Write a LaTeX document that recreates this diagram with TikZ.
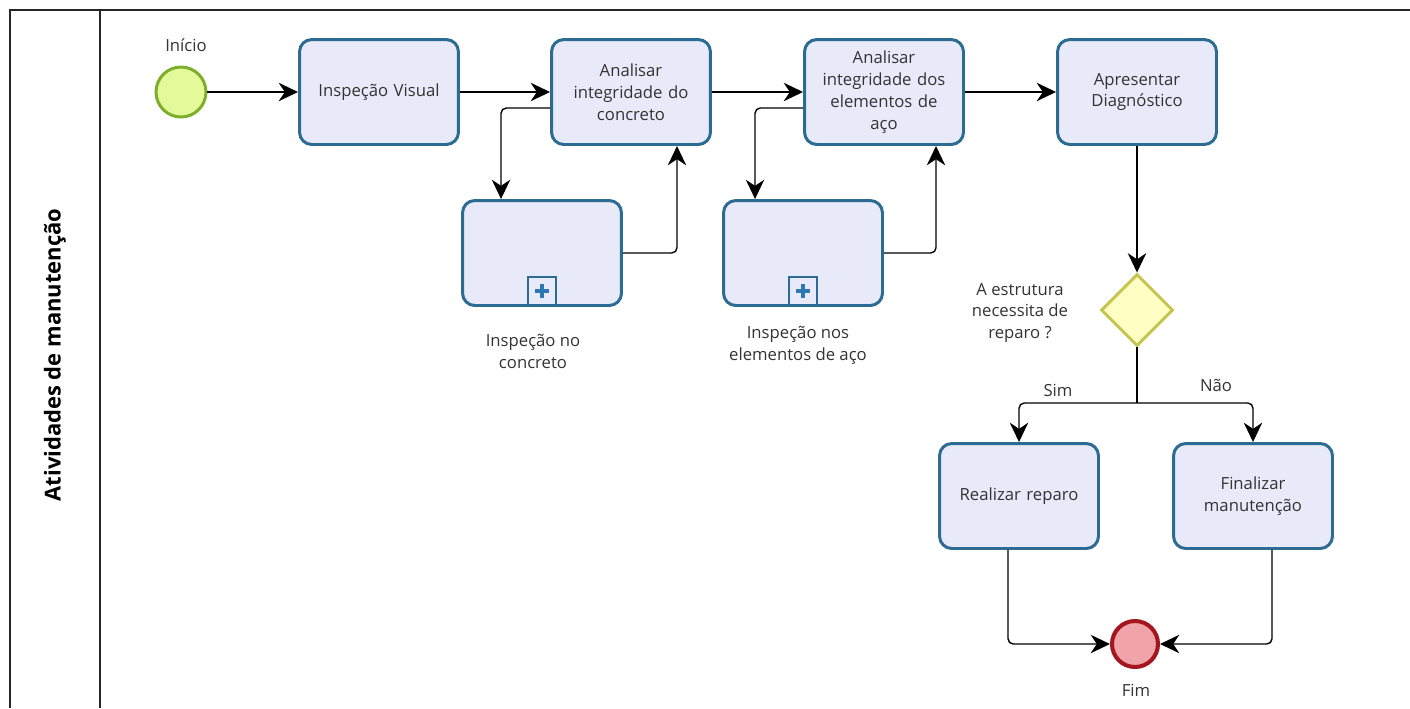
\documentclass[tikz,border=0pt]{standalone}
\usepackage{fontspec}
\setmainfont{Open Sans}
\usetikzlibrary{arrows.meta,calc,shapes.geometric}
\definecolor{taskfill}{HTML}{E8EAFA}
\definecolor{taskline}{HTML}{2C6B92}
\definecolor{startfill}{HTML}{E4F99A}
\definecolor{startline}{HTML}{7CAF2A}
\definecolor{endfill}{HTML}{F0A3A8}
\definecolor{endline}{HTML}{A3161F}
\definecolor{gwfill}{HTML}{FFFFC4}
\definecolor{gwline}{HTML}{C4C44E}
\definecolor{plusblue}{HTML}{2D78B4}
\definecolor{txt}{HTML}{333333}
\tikzset{
  task/.style={draw=taskline, fill=taskfill, line width=1.7pt, rounded corners=7pt,
    minimum width=3.18cm, minimum height=2.1cm, align=center, text width=2.9cm,
    font=\fontsize{9.5}{12.5}\selectfont, text=txt, inner sep=0pt},
  marker/.style={draw=taskline, fill=taskfill, line width=1.4pt, minimum width=0.56cm,
    minimum height=0.56cm, inner sep=0pt},
  flow/.style={draw=black, line width=0.8pt, rounded corners=3pt,
    -{Stealth[length=11pt,width=10.5pt,inset=3.5pt]}},
  plain/.style={draw=black, line width=0.8pt, rounded corners=3pt},
  lbl/.style={font=\fontsize{9.5}{12.5}\selectfont, text=txt, align=center, inner sep=0pt},
}
\begin{document}
\begin{tikzpicture}[x=0.02cm, y=-0.02cm]
\useasboundingbox (0,0) rectangle (1410,708);
% lane
\draw[line width=1.2pt, black!85] (10,708) -- (10,10) -- (1410,10);
\draw[line width=1.2pt, black!85] (100,10) -- (100,708);
\node[rotate=90, font=\bfseries\fontsize{12.5}{15}\selectfont, text=black] (lane) at (55,355) {Atividades de manutenção};

% start
\node[circle, draw=startline, fill=startfill, line width=1.7pt, minimum size=1.0cm, inner sep=0pt] (start) at (181,92) {};
\node[lbl] (startlbl) at (186,45) {Início};

% tasks
\node[task] (iv) at (379,92) {Inspeção Visual};
\node[task] (ac) at (631,92) {Analisar\\integridade do\\concreto};
\node[task] (aa) at (884,92) {Analisar\\integridade dos\\elementos de\\aço};
\node[task] (ad) at (1137,92) {Apresentar\\Diagnóstico};
\node[task] (sub1) at (542,253) {};
\node[task] (sub2) at (803,253) {};
\node[task] (rr) at (1019,496) {Realizar reparo};
\node[task] (fm) at (1253,496) {Finalizar\\manutenção};

% subprocess markers
\node[marker, anchor=south] (m1) at ($(sub1.south)+(0,-1)$) {};
\node[marker, anchor=south] (m2) at ($(sub2.south)+(0,-1)$) {};
\foreach \m in {m1,m2}{
  \fill[plusblue] ($(\m.center)+(-7,-2.2)$) rectangle ($(\m.center)+(7,2.2)$);
  \fill[plusblue] ($(\m.center)+(-2.2,-7)$) rectangle ($(\m.center)+(2.2,7)$);
}
\node[lbl] (sub1lbl) at (533,351) {Inspeção no\\concreto};
\node[lbl] (sub2lbl) at (798,345) {Inspeção nos\\elementos de aço};

% gateway
\node[diamond, draw=gwline, fill=gwfill, line width=1.7pt, minimum width=1.44cm, minimum height=1.44cm, inner sep=0pt, aspect=1] (gw) at (1137,310) {};
\node[lbl] (gwlbl) at (1020,313) {A estrutura\\necessita de\\reparo ?};

% end
\node[circle, draw=endline, fill=endfill, line width=2.3pt, minimum size=0.92cm, inner sep=0pt] (fim) at (1135,644) {};
\node[lbl] (fimlbl) at (1136,690) {Fim};

% flows
\draw[flow] (start) -- (iv);
\draw[flow] (iv) -- (ac);
\draw[flow] (ac) -- (aa);
\draw[flow] (aa) -- (ad);
\draw[flow] ($(ac.west)+(0,16)$) -| ($(sub1.north west)+(40,0)$);
\draw[flow] (sub1.east) -| ($(ac.south)+(46,0)$);
\draw[flow] ($(aa.west)+(0,16)$) -| ($(sub2.north west)+(33,0)$);
\draw[flow] (sub2.east) -| ($(aa.south)+(52,0)$);
\draw[flow] (ad) -- (gw);
\coordinate (split) at (1137,403);
\draw[plain] (gw.south) -- (split);
\draw[flow] (split) -| (rr.north);
\draw[flow] (split) -| (fm.north);
\node[lbl] (sim) at (1058,390) {Sim};
\node[lbl] (nao) at (1216,385) {Não};
\draw[flow] ($(rr.south)+(-11,0)$) |- (fim.west);
\draw[flow] ($(fm.south)+(19,0)$) |- (fim.east);
\end{tikzpicture}
\end{document}
